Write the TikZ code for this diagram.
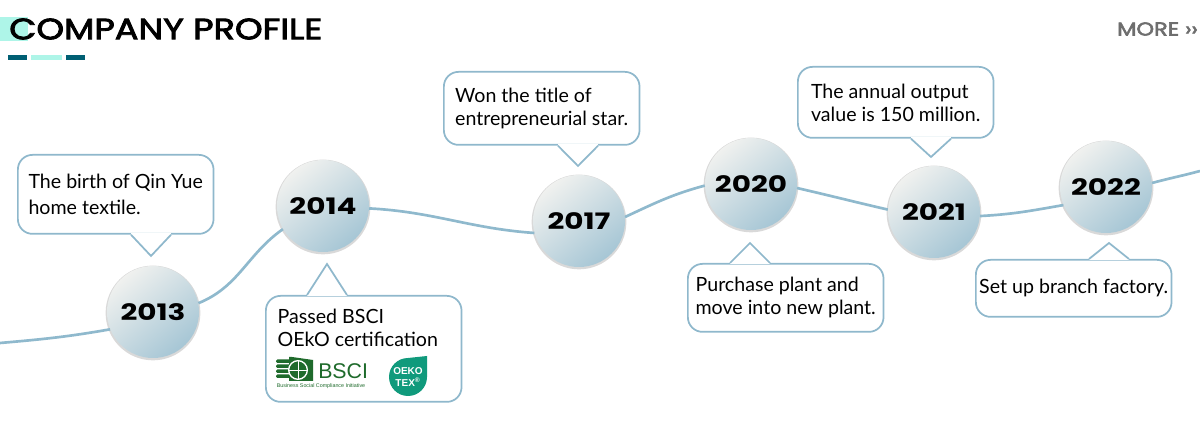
\documentclass[tikz,border=0pt]{standalone}
\usepackage{fontspec}
\setmainfont{Lato}
\newfontfamily\yearfont[FakeStretch=1.3]{Poppins}
\newfontfamily\titlefont[FakeStretch=1.2,FakeBold=3]{Poppins}
\newfontfamily\logofont{Liberation Sans}
\usepackage{xcolor}
\usetikzlibrary{arrows.meta,positioning,calc,shadows}
\definecolor{trailblue}{HTML}{8FB9CD}
\definecolor{shadeblue}{HTML}{A6C6D5}
\definecolor{shadelight}{HTML}{F0F1EF}
\definecolor{bubbleblue}{HTML}{8FB8CC}
\definecolor{darkteal}{HTML}{005F73}
\definecolor{palemint}{HTML}{AEF5E8}
\definecolor{bscigreen}{HTML}{1F6B2C}
\definecolor{oekogreen}{HTML}{109A7C}
\definecolor{moregrey}{HTML}{6E6E6E}

\newcommand{\bubbletail}[3]{%
  \fill[white] (#1) -- (#2) -- (#3) -- cycle;
  \draw[white, line width=2pt] (#1) -- (#3);
  \draw[tailline] (#1) -- (#2) -- (#3);
}

\begin{document}
\begin{tikzpicture}[
  x=0.75pt, y=0.75pt,
  year/.style={circle, minimum size=69pt, inner sep=0pt, font=\yearfont\bfseries\fontsize{17}{17}\selectfont,
    shading=axis, top color=shadelight, bottom color=shadeblue, shading angle=40,
    drop shadow={opacity=0.3, shadow scale=1.03, shadow xshift=0pt, shadow yshift=-0.7pt}},
  bubble/.style={draw=bubbleblue, fill=white, line width=1.3pt, rounded corners=11pt, minimum width=146.75pt,
    align=left, anchor=north west, inner sep=0pt, font=\fontsize{14.7}{17.25}\selectfont},
  tailline/.style={draw=bubbleblue, line width=1.3pt, line join=miter},
  trail/.style={draw=trailblue, line width=2pt},
]
  \useasboundingbox (0,0) rectangle (1200,425);
  % Title
  \fill[palemint] (0,384) rectangle (28,408);
  \node[font=\titlefont\fontsize{22}{22}\selectfont, anchor=west, inner sep=0pt] (title) at (9,396) {COMPANY PROFILE};
  \fill[darkteal] (8,365) rectangle (27,370);
  \fill[palemint] (31,365) rectangle (62,370);
  \fill[darkteal] (66,365) rectangle (85,370);
  \node[font=\titlefont\fontsize{14}{14}\selectfont, text=moregrey, anchor=east, inner sep=0pt] (more) at (1198,396) {MORE ››};

  % Years
  \node[year] (y2013) at (153,113) {2013};
  \node[year] (y2014) at (323,219) {2014};
  \node[year] (y2017) at (579,204) {2017};
  \node[year] (y2020) at (751,241) {2020};
  \node[year] (y2021) at (934,213) {2021};
  \node[year] (y2022) at (1106,238) {2022};
  \coordinate (start) at (0,82);
  \coordinate (end) at (1200,254);

  % Trail
  \draw[trail] (start) to[out=5,in=190] (y2013.202);
  \draw[trail] (y2013.11) to[out=22,in=215] (y2014.210);
  \draw[trail] (y2014.-3) to[out=-3,in=176] (y2017.195);
  \draw[trail] (y2017.5) to[out=25,in=195] (y2020.182);
  \draw[trail] (y2020.-5) to[out=-13,in=167] (y2021.177);
  \draw[trail] (y2021.-5) to[out=3,in=190] (y2022.203);
  \draw[trail] (y2022.5) to[out=15,in=195] (end);

  % Bubbles
  \node[bubble, minimum height=59.25pt] (b2013) at (17,271) {The birth of Qin Yue\\[2pt]home textile.};
  \node[bubble, minimum height=79.5pt] (b2014) at (265,130) {Passed BSCI\\OEkO certification\\[14pt]\hspace*{129pt}};
  \node[bubble, minimum height=54.75pt] (b2017) at (443,354) {Won the title of\\entrepreneurial star.};
  \node[bubble, minimum height=53.25pt] (b2021) at (797,359) {The annual output\\value is 150 million.};
  \node[bubble, minimum height=51pt] (b2020) at (687,162) {Purchase plant and\\move into new plant.};
  \node[bubble, minimum height=42.75pt] (b2022) at (975,166) {Set up branch factory.};

  % Tails
  \coordinate (t2013) at (151,169);
  \coordinate (t2014) at (327,161);
  \coordinate (t2017) at (578,259);
  \coordinate (t2021) at (931,268);
  \coordinate (t2020) at (750,182);
  \coordinate (t2022) at (1109,182);
  \bubbletail{b2013.south -| {$(t2013)+(-20,0)$}}{t2013}{b2013.south -| {$(t2013)+(20,0)$}}
  \bubbletail{b2014.north -| {$(t2014)+(-20,0)$}}{t2014}{b2014.north -| {$(t2014)+(20,0)$}}
  \bubbletail{b2017.south -| {$(t2017)+(-20,0)$}}{t2017}{b2017.south -| {$(t2017)+(20,0)$}}
  \bubbletail{b2021.south -| {$(t2021)+(-20,0)$}}{t2021}{b2021.south -| {$(t2021)+(20,0)$}}
  \bubbletail{b2020.north -| {$(t2020)+(-20,0)$}}{t2020}{b2020.north -| {$(t2020)+(20,0)$}}
  \bubbletail{b2022.north -| {$(t2022)+(-20,0)$}}{t2022}{b2022.north -| {$(t2022)+(20,0)$}}

  % BSCI logo
  \fill[bscigreen] (289,68) -- (292,68) -- (313,65) -- (313,44) -- (289,44) -- cycle;
  \foreach \fy in {47,52,57,62} {
    \fill[bscigreen, rounded corners=1pt] (276,\fy) rectangle (292,\fy+3.5);
  }
  \node[draw=white, fill=bscigreen, circle, minimum size=14pt, inner sep=0pt, line width=1pt] (globe) at (298,55) {};
  \draw[white, line width=0.5pt] (globe.west) -- (globe.east);
  \draw[white, line width=0.5pt] (globe.north) -- (globe.south);
  \node[text=bscigreen, font=\logofont\fontsize{16}{16}\selectfont, anchor=west, inner sep=0pt] (bsci) at (318,54) {BSCI};
  \node[text=bscigreen, font=\logofont\fontsize{4}{4}\selectfont, inner sep=0pt] (bscitext) at (321,39) {Business Social Compliance Initiative};
  % OEKO TEX logo
  \fill[oekogreen] (427,69) -- (427,48) arc[start angle=0, end angle=-180, radius=19] arc[start angle=180, end angle=90, radius=19] -- cycle;
  \node[text=white, font=\logofont\bfseries\fontsize{7.5}{9.5}\selectfont, align=center, inner sep=0pt] (oeko) at (408,48) {OEKO\\TEX\textsuperscript{\tiny ®}};
\end{tikzpicture}
\end{document}
